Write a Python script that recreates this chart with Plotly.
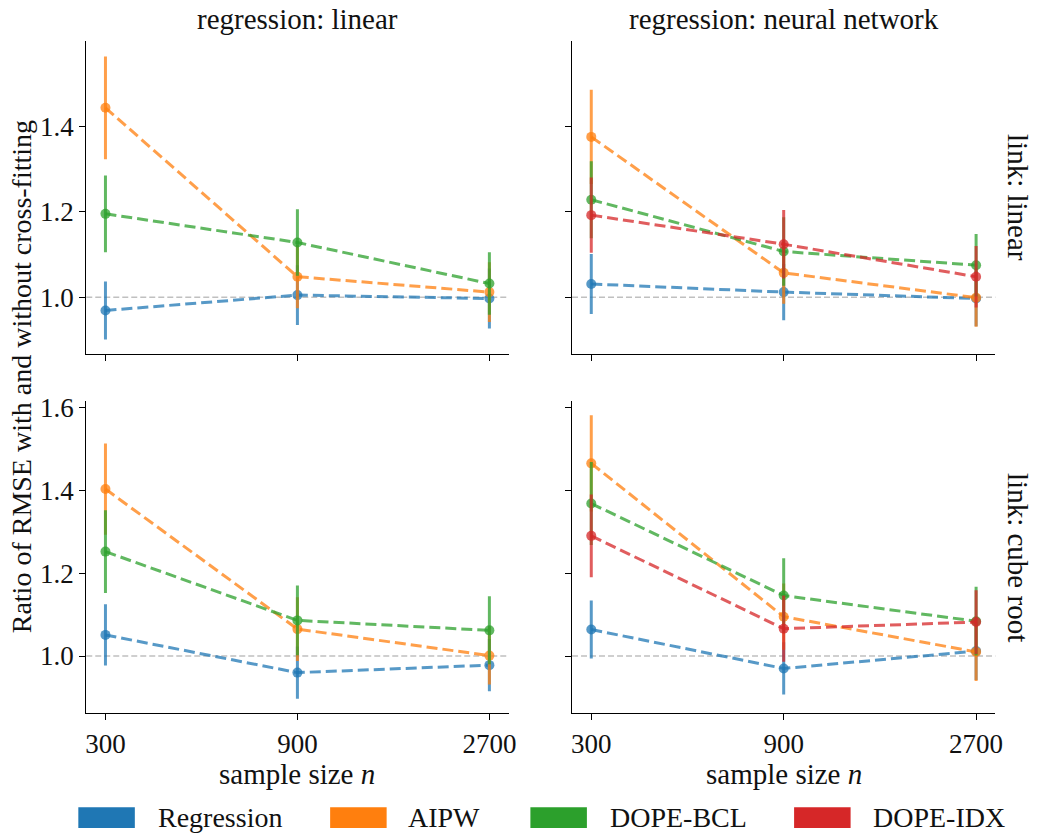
import plotly.graph_objects as go

# ---------------- data ----------------
sample_sizes = ["300", "900", "2700"]
methods = ["Regression", "AIPW", "DOPE-BCL", "DOPE-IDX"]
col_titles = ["regression: linear", "regression: neural network"]
row_titles = ["link: linear", "link: cube root"]

# top-left: regression linear, link linear
tl_regression = [0.969, 1.005, 0.997]
tl_regression_err = [0.068, 0.070, 0.070]
tl_aipw = [1.443, 1.048, 1.012]
tl_aipw_err = [0.120, 0.074, 0.070]
tl_bcl = [1.195, 1.128, 1.032]
tl_bcl_err = [0.090, 0.078, 0.073]

# top-right: regression neural network, link linear
tr_regression = [1.031, 1.012, 0.997]
tr_regression_err = [0.070, 0.066, 0.065]
tr_aipw = [1.375, 1.057, 0.999]
tr_aipw_err = [0.110, 0.072, 0.068]
tr_bcl = [1.228, 1.107, 1.075]
tr_bcl_err = [0.090, 0.080, 0.073]
tr_idx = [1.192, 1.124, 1.048]
tr_idx_err = [0.088, 0.080, 0.072]

# bottom-left: regression linear, link cube root
bl_regression = [1.051, 0.960, 0.978]
bl_regression_err = [0.074, 0.063, 0.063]
bl_aipw = [1.403, 1.065, 1.001]
bl_aipw_err = [0.110, 0.077, 0.070]
bl_bcl = [1.252, 1.086, 1.062]
bl_bcl_err = [0.100, 0.084, 0.082]

# bottom-right: regression neural network, link cube root
br_regression = [1.064, 0.970, 1.012]
br_regression_err = [0.070, 0.063, 0.070]
br_aipw = [1.465, 1.095, 1.010]
br_aipw_err = [0.116, 0.080, 0.070]
br_bcl = [1.368, 1.146, 1.084]
br_bcl_err = [0.100, 0.090, 0.083]
br_idx = [1.290, 1.066, 1.082]
br_idx_err = [0.100, 0.080, 0.077]

# ---------------- style ----------------
W, H = 1043, 839
FONT = "Liberation Serif"
colors = {"Regression": (31, 119, 180), "AIPW": (255, 127, 14),
          "DOPE-BCL": (44, 160, 44), "DOPE-IDX": (214, 39, 40)}
ALPHA = 0.75


def rgba(c, a):
    return "rgba(%d,%d,%d,%s)" % (c[0], c[1], c[2], a)


def px_x(p):
    return p / W


def px_y(p):
    return 1 - p / H


panels = [
    ("x", "y", [("Regression", tl_regression, tl_regression_err),
                ("AIPW", tl_aipw, tl_aipw_err),
                ("DOPE-BCL", tl_bcl, tl_bcl_err)]),
    ("x2", "y2", [("Regression", tr_regression, tr_regression_err),
                  ("AIPW", tr_aipw, tr_aipw_err),
                  ("DOPE-BCL", tr_bcl, tr_bcl_err),
                  ("DOPE-IDX", tr_idx, tr_idx_err)]),
    ("x3", "y3", [("Regression", bl_regression, bl_regression_err),
                  ("AIPW", bl_aipw, bl_aipw_err),
                  ("DOPE-BCL", bl_bcl, bl_bcl_err)]),
    ("x4", "y4", [("Regression", br_regression, br_regression_err),
                  ("AIPW", br_aipw, br_aipw_err),
                  ("DOPE-BCL", br_bcl, br_bcl_err),
                  ("DOPE-IDX", br_idx, br_idx_err)]),
]

fig = go.Figure()
for xa, ya, series in panels:
    for name, vals, errs in series:
        c = colors[name]
        fig.add_trace(go.Scatter(
            x=sample_sizes, y=vals, xaxis=xa, yaxis=ya, mode="lines+markers",
            name=name, showlegend=False,
            line=dict(color=rgba(c, ALPHA), width=3, dash="11px,5px"),
            marker=dict(color=rgba(c, ALPHA), size=10, line=dict(width=0)),
            error_y=dict(type="data", array=errs, visible=True, thickness=3,
                         width=0, color=rgba(c, ALPHA)),
        ))

# domains
xd_left = [px_x(86), px_x(512)]
xd_right = [px_x(576), px_x(1003)]
yd_top = [px_y(349), px_y(33)]
yd_bot = [px_y(712), px_y(397)]

axis_common = dict(showline=True, linecolor="black", linewidth=1.4,
                   ticks="outside", ticklen=6, tickwidth=1.4, tickcolor="black",
                   showgrid=False, zeroline=False,
                   tickfont=dict(family=FONT, size=27, color="#111"))
xcommon = dict(axis_common, type="category", range=[-0.1, 2.1],
               tickvals=sample_sizes, ticktext=sample_sizes)

top_range = [0.868, 1.600]
bot_range = [0.862, 1.615]
top_ticks = [1.0, 1.2, 1.4]
bot_ticks = [1.0, 1.2, 1.4, 1.6]

fig.update_layout(
    width=W, height=H, margin=dict(l=0, r=0, t=0, b=0),
    paper_bgcolor="white", plot_bgcolor="white", showlegend=False,
    xaxis=dict(xcommon, domain=xd_left, anchor="y", showticklabels=False),
    xaxis2=dict(xcommon, domain=xd_right, anchor="y2", showticklabels=False),
    xaxis3=dict(xcommon, domain=xd_left, anchor="y3"),
    xaxis4=dict(xcommon, domain=xd_right, anchor="y4"),
    yaxis=dict(axis_common, domain=yd_top, anchor="x", range=top_range,
               tickvals=top_ticks, tickformat=".1f"),
    yaxis2=dict(axis_common, domain=yd_top, anchor="x2", range=top_range,
                tickvals=top_ticks, showticklabels=False),
    yaxis3=dict(axis_common, domain=yd_bot, anchor="x3", range=bot_range,
                tickvals=bot_ticks, tickformat=".1f"),
    yaxis4=dict(axis_common, domain=yd_bot, anchor="x4", range=bot_range,
                tickvals=bot_ticks, showticklabels=False),
)

# reference lines at 1.0
for xa, ya in [("x", "y"), ("x2", "y2"), ("x3", "y3"), ("x4", "y4")]:
    fig.add_shape(type="line", xref=xa + " domain", yref=ya, x0=0, x1=1,
                  y0=1.0, y1=1.0, layer="below",
                  line=dict(color="#c0c0c0", width=1.6, dash="6px,3px"))

annos = []
for t, dom in zip(col_titles, [xd_left, xd_right]):
    annos.append(dict(text=t, x=(dom[0] + dom[1]) / 2, y=px_y(11),
                      xref="paper", yref="paper", xanchor="center",
                      yanchor="middle", showarrow=False,
                      font=dict(family=FONT, size=29, color="#111")))
for t, dom in zip(row_titles, [yd_top, yd_bot]):
    annos.append(dict(text=t, x=px_x(1026), y=(dom[0] + dom[1]) / 2,
                      xref="paper", yref="paper", xanchor="center",
                      yanchor="middle", textangle=90, showarrow=False,
                      font=dict(family=FONT, size=29, color="#111")))
for dom in [xd_left, xd_right]:
    annos.append(dict(text="sample size <i>n</i>", x=(dom[0] + dom[1]) / 2,
                      y=px_y(773), xref="paper", yref="paper",
                      xanchor="center", yanchor="middle", showarrow=False,
                      font=dict(family=FONT, size=29, color="#111")))
annos.append(dict(text="Ratio of RMSE with and without cross-fitting",
                  x=px_x(21), y=px_y(372), xref="paper", yref="paper",
                  xanchor="center", yanchor="middle", textangle=-90,
                  showarrow=False,
                  font=dict(family=FONT, size=28, color="#111")))

# legend (patches + labels)
patch_x = [78, 332, 534, 800]
label_x = [156, 409, 612, 878]
for m, px0, lx in zip(methods, patch_x, label_x):
    fig.add_shape(type="rect", xref="paper", yref="paper",
                  x0=px_x(px0), x1=px_x(px0 + 57), y0=px_y(828), y1=px_y(807),
                  fillcolor=rgba(colors[m], 1), line=dict(width=0))
    annos.append(dict(text=m, x=px_x(lx), y=px_y(817), xref="paper",
                      yref="paper", xanchor="left", yanchor="middle",
                      showarrow=False,
                      font=dict(family=FONT, size=28, color="#111")))

fig.update_layout(annotations=annos)
fig.write_html(
    "out.html",
    config={"displayModeBar": False},
    post_script="document.body.style.margin='0';"
                "document.body.style.padding='0';"
                "document.body.style.overflow='hidden';",
)
